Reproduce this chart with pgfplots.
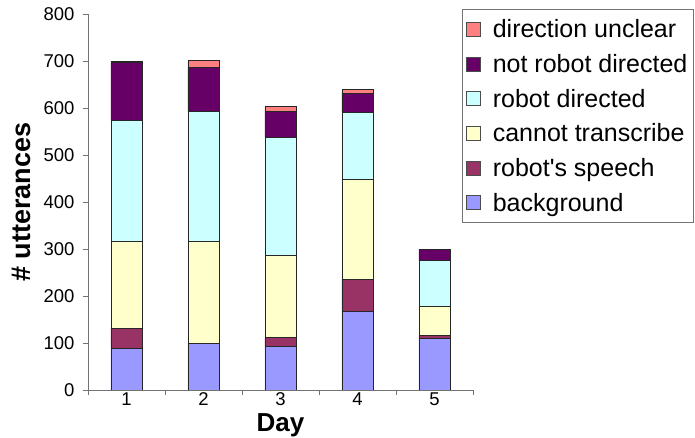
\documentclass[border=0pt]{standalone}
\usepackage{pgfplots}
\pgfplotsset{compat=1.18}
\usepackage{fontspec}
\setmainfont{Liberation Sans}[Ligatures=TeXOff]
\definecolor{cbg}{HTML}{9999FF}
\definecolor{cspeech}{HTML}{993366}
\definecolor{ccannot}{HTML}{FFFFCC}
\definecolor{crd}{HTML}{CCFFFF}
\definecolor{cnrd}{HTML}{660066}
\definecolor{cunc}{HTML}{FF8080}
\begin{document}
\begin{tikzpicture}
\path[use as bounding box] (0,0) rectangle (695bp,438bp);
\begin{axis}[
  at={(88bp,48bp)}, anchor=origin,
  scale only axis, width=385bp, height=376bp,
  ybar stacked, bar width=31bp,
  xmin=0.5, xmax=5.5, ymin=0, ymax=800,
  xtick={1,2,3,4,5},
  minor xtick={0.5,1.5,2.5,3.5,4.5,5.5},
  ytick={0,100,...,800},
  major x tick style={draw=none},
  tick align=outside, major tick length=5bp, minor tick length=5bp,
  axis x line*=bottom, axis y line*=left,
  axis line style={-, draw=black!55, line width=0.9pt},
  every tick/.style={black!55, line width=0.8pt},
  /pgf/number format/assume math mode=true,
  ticklabel style={font=\fontsize{18.5bp}{22bp}\selectfont},
  yticklabel style={xshift=-5bp},
  xticklabel style={yshift=3.5bp, inner sep=1bp},
  xlabel={\textbf{Day}}, ylabel={\textbf{\# utterances}},
  label style={font=\fontsize{26bp}{30bp}\selectfont},
  xlabel style={inner sep=0bp, yshift=-7bp},
  ylabel style={yshift=6bp, font=\fontsize{27bp}{30bp}\selectfont},
  reverse legend,
  legend style={at={(rel axis cs:0.971,1.013)}, anchor=north west,
    draw=black!55, line width=0.8pt, font=\fontsize{25bp}{29bp}\selectfont,
    row sep=11.1bp, inner xsep=4bp, inner ysep=8bp, cells={anchor=west},
    /tikz/every odd column/.append style={column sep=10bp}},
  legend image code/.code={\draw[#1, draw=black!70, line width=0.6pt] (3bp,-7bp) rectangle (17bp,7bp);},
  every axis plot/.append style={draw=black!85, line width=0.8pt},
]
\addplot[fill=cbg] coordinates {(1,89) (2,100) (3,92) (4,167) (5,109)};
\addplot[fill=cspeech] coordinates {(1,42) (2,0) (3,19) (4,69) (5,7)};
\addplot[fill=ccannot] coordinates {(1,185) (2,216) (3,176) (4,212) (5,62)};
\addplot[fill=crd] coordinates {(1,257) (2,277) (3,251) (4,143) (5,97)};
\addplot[fill=cnrd] coordinates {(1,123) (2,93) (3,55) (4,40) (5,24)};
\addplot[fill=cunc] coordinates {(1,4) (2,15) (3,11) (4,8) (5,1)};
\legend{background, robot's speech, cannot transcribe, robot directed, not robot directed, direction unclear}
\end{axis}
\end{tikzpicture}
\end{document}
